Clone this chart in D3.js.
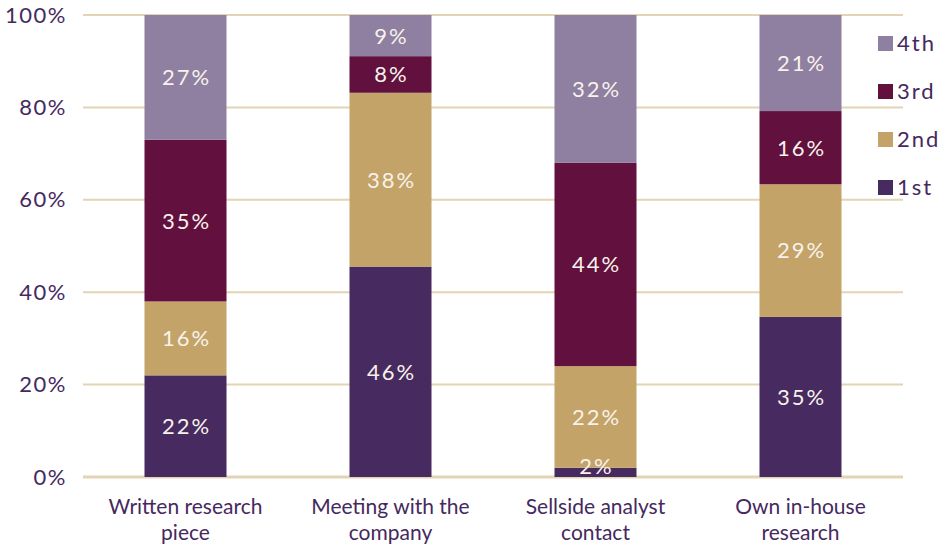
<!DOCTYPE html>
<meta charset="utf-8">
<script src="https://d3js.org/d3.v7.min.js"></script>
<style>
body { margin: 0; background: #fff; }
.tick-label { font: 22px Lato, "Liberation Sans", Arial, sans-serif; fill: #45295e; letter-spacing: 1.5px; }
.cat-label { font: 21px Lato, "Liberation Sans", Arial, sans-serif; fill: #45295e; }
.seg-label { font: 22px Lato, "Liberation Sans", Arial, sans-serif; fill: #f7f2ea; letter-spacing: 2px; }
.legend-label { font: 22px Lato, "Liberation Sans", Arial, sans-serif; fill: #45295e; letter-spacing: 2px; }
</style>
<div id="plot"></div>
<script>
// categories and series (percent labels as printed)
var categories = [
  ["Written research", "piece"],
  ["Meeting with the", "company"],
  ["Sellside analyst", "contact"],
  ["Own in-house", "research"]
];
var seriesNames = ["1st", "2nd", "3rd", "4th"];
var first  = [22, 46, 2, 35];
var second = [16, 38, 22, 29];
var third  = [35, 8, 44, 16];
var fourth = [27, 9, 32, 21];
var yTicks = [0, 0.2, 0.4, 0.6, 0.8, 1];

var colors = ["#472a5f", "#c4a369", "#62103d", "#8f7fa0"];

var W = 949, H = 547;
var margin = {top: 15, right: 46, bottom: 70, left: 83};

var rows = categories.map(function(c, i) {
  return {cat: i, "1st": first[i], "2nd": second[i], "3rd": third[i], "4th": fourth[i]};
});

var stack = d3.stack().keys(seriesNames).offset(d3.stackOffsetExpand);
var layers = stack(rows);

var x = d3.scaleBand()
  .domain(d3.range(categories.length))
  .range([margin.left, W - margin.right])
  .paddingInner(0.6)
  .paddingOuter(0.3);

var y = d3.scaleLinear().domain([0, 1]).range([H - margin.bottom, margin.top]);

var color = d3.scaleOrdinal().domain(seriesNames).range(colors);

var svg = d3.select("#plot").append("svg")
  .attr("width", W)
  .attr("height", H);

// gridlines
svg.append("g").selectAll("line")
  .data(yTicks)
  .enter().append("line")
    .attr("x1", margin.left)
    .attr("x2", W - margin.right)
    .attr("y1", function(d) { return y(d); })
    .attr("y2", function(d) { return y(d); })
    .attr("stroke", "#e3d4b3")
    .attr("stroke-width", function(d) { return d === 0 ? 3 : 2; });

// y axis labels
var yAxis = d3.axisLeft(y).tickValues(yTicks).tickFormat(d3.format(".0%")).tickSize(0).tickPadding(16);
var ya = svg.append("g")
  .attr("transform", "translate(" + margin.left + ",0)")
  .call(yAxis);
ya.select(".domain").remove();
ya.selectAll("text").attr("class", "tick-label").attr("fill", null).attr("font-size", null).attr("font-family", null);

// bars
var groups = svg.append("g").selectAll("g")
  .data(layers)
  .enter().append("g")
    .attr("fill", function(d) { return color(d.key); });

groups.selectAll("rect")
  .data(function(d) { return d; })
  .enter().append("rect")
    .attr("x", function(d) { return x(d.data.cat); })
    .attr("width", x.bandwidth())
    .attr("y", function(d) { return y(d[1]); })
    .attr("height", function(d) { return y(d[0]) - y(d[1]); });

// segment labels
layers.forEach(function(layer) {
  svg.append("g").selectAll("text")
    .data(layer)
    .enter().append("text")
      .attr("class", "seg-label")
      .attr("x", function(d) { return x(d.data.cat) + x.bandwidth() / 2 + 1; })
      .attr("y", function(d) {
        var cy = (y(d[0]) + y(d[1])) / 2;
        return layer.key === "1st" && d.data.cat === 2 ? y(d[0]) - 3 : cy;
      })
      .attr("dy", function(d) { return layer.key === "1st" && d.data.cat === 2 ? "0" : "0.36em"; })
      .attr("text-anchor", "middle")
      .text(function(d) { return d.data[layer.key] + "%"; });
});

// category labels
var cat = svg.append("g").selectAll("text")
  .data(categories)
  .enter().append("text")
    .attr("class", "cat-label")
    .attr("text-anchor", "middle")
    .attr("x", function(d, i) { return x(i) + x.bandwidth() / 2; })
    .attr("y", H - margin.bottom + 37);

cat.selectAll("tspan")
  .data(function(d) { return d; })
  .enter().append("tspan")
    .attr("x", function() { return d3.select(this.parentNode).attr("x"); })
    .attr("dy", function(d, i) { return i === 0 ? 0 : 26; })
    .text(function(d) { return d; });

// legend
var legend = svg.append("g").selectAll("g")
  .data(seriesNames.slice().reverse())
  .enter().append("g")
    .attr("transform", function(d, i) { return "translate(878," + (36 + i * 48) + ")"; });

legend.append("rect")
  .attr("width", 15)
  .attr("height", 15)
  .attr("fill", function(d) { return color(d); });

legend.append("text")
  .attr("class", "legend-label")
  .attr("x", 19)
  .attr("y", 15)
  .text(function(d) { return d; });
</script>
